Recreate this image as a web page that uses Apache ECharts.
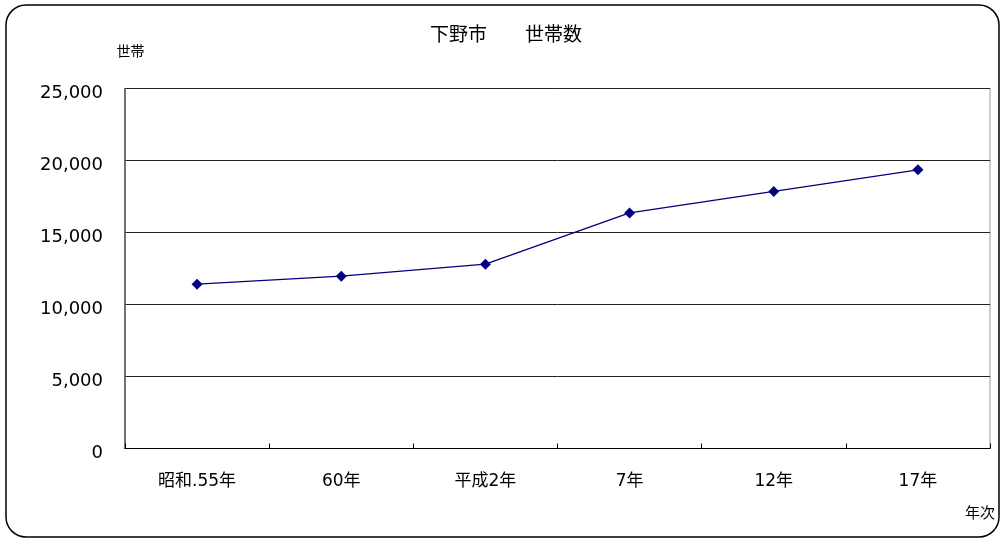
<!DOCTYPE html>
<html>
<head>
<meta charset="utf-8">
<script src="https://cdn.jsdelivr.net/npm/echarts@6/dist/echarts.min.js"></script>
<style>
html,body{margin:0;padding:0;background:#fff;}
#c{width:1001px;height:540px;}
</style>
</head>
<body>
<div id="c"></div>
<script>
const categories = ['昭和.55年', '60年', '平成2年', '7年', '12年', '17年'];
const households = [11410, 11970, 12800, 16360, 17850, 19350];
const yTicks = [0, 5000, 10000, 15000, 20000, 25000];

const chart = echarts.init(document.getElementById('c'), null, {renderer: 'canvas'});
const font = '"DejaVu Sans", "Liberation Sans", "Noto Sans CJK JP", sans-serif';
const cjk = '"Noto Sans CJK JP", sans-serif';
chart.setOption({
  animation: false,
  backgroundColor: '#fff',
  textStyle: {fontFamily: font},
  title: {
    text: '下野市　　世帯数',
    left: 501, top: 19, textAlign: 'center',
    textStyle: {fontSize: 19, fontWeight: 'normal', color: '#000', fontFamily: cjk}
  },
  graphic: [{
    type: 'rect', silent: true, z: -1,
    shape: {x: 6, y: 5, width: 993, height: 532, r: 20},
    style: {fill: 'none', stroke: '#000', lineWidth: 1.5}
  }],
  grid: {left: 125, right: 11, top: 88.5, bottom: 91.5, show: true, borderColor: '#999', borderWidth: 1, backgroundColor: 'transparent'},
  xAxis: {
    type: 'category', data: categories, boundaryGap: true,
    name: '年次', nameLocation: 'end',
    nameGap: 5,
    nameTextStyle: {fontSize: 15, color: '#000', align: 'right', verticalAlign: 'top', padding: [56, 0, 0, 0], fontFamily: cjk},
    axisLine: {lineStyle: {color: '#000', width: 1}},
    axisTick: {show: true, inside: true, length: 5, lineStyle: {color: '#000'}},
    axisLabel: {fontSize: 17, color: '#000', margin: 25, fontFamily: font},
    splitLine: {show: false}
  },
  yAxis: {
    type: 'value', min: 0, max: 25000, interval: 5000,
    name: '世帯', nameLocation: 'end', nameGap: 31,
    nameTextStyle: {fontSize: 14, color: '#000', align: 'center', padding: [0, 0, 0, 11], fontFamily: cjk},
    axisLine: {show: true, lineStyle: {color: '#555', width: 1.5}},
    axisTick: {show: false},
    axisLabel: {
      fontSize: 18, color: '#000', margin: 22, fontFamily: font,
      verticalAlign: 'top', lineHeight: 10,
      formatter: v => yTicks.includes(v) ? v.toLocaleString('en-US') : ''
    },
    splitLine: {show: true, lineStyle: {color: '#222', width: 1}}
  },
  series: [{
    type: 'line', data: households,
    symbol: 'diamond', symbolSize: 11, showSymbol: true,
    lineStyle: {color: '#000080', width: 1.3},
    itemStyle: {color: '#000080', borderWidth: 0}
  }]
});
</script>
</body>
</html>
